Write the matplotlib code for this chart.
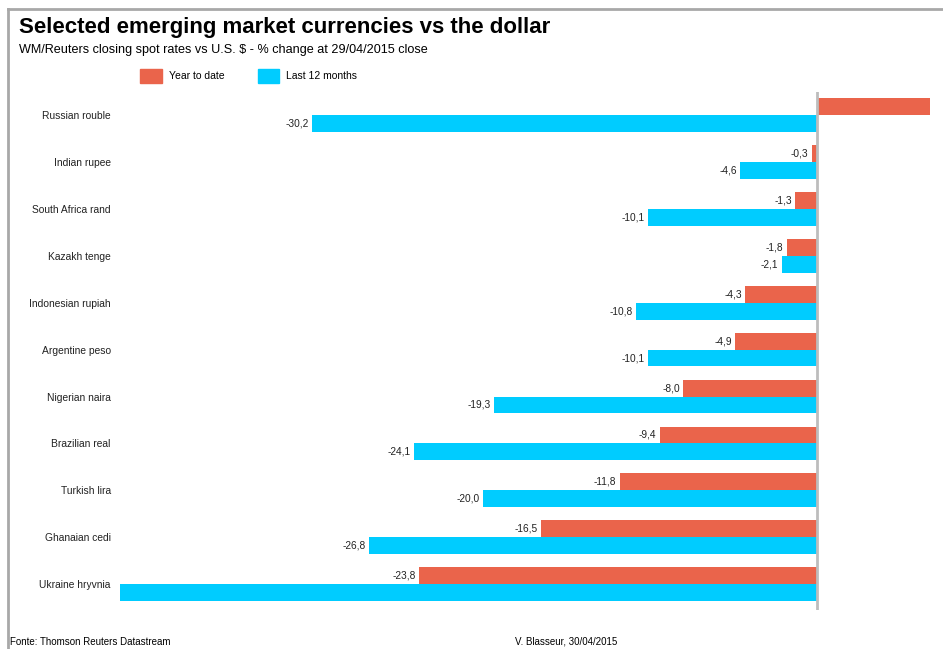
import matplotlib.pyplot as plt
from matplotlib.lines import Line2D
from matplotlib.patches import Patch

plt.rcParams['font.family'] = ['Liberation Sans', 'DejaVu Sans']

# % change vs the US dollar
currencies = ['Russian rouble', 'Indian rupee', 'South Africa rand', 'Kazakh tenge',
              'Indonesian rupiah', 'Argentine peso', 'Nigerian naira', 'Brazilian real',
              'Turkish lira', 'Ghanaian cedi', 'Ukraine hryvnia']
year_to_date = [6.8, -0.3, -1.3, -1.8, -4.3, -4.9, -8.0, -9.4, -11.8, -16.5, -23.8]
last_12_months = [-30.2, -4.6, -10.1, -2.1, -10.8, -10.1, -19.3, -24.1, -20.0, -26.8, -41.7]
# bars running off the chart edge carry no number
ytd_labelled = [False] + [True] * 10
ltm_labelled = [True] * 10 + [False]

ytd_color = '#EA644B'
ltm_color = '#00CCFF'

fig = plt.figure(figsize=(9.43, 6.49), dpi=100)
ax = fig.add_axes([119 / 943, 1 - 610 / 649, (930 - 119) / 943, (610 - 92) / 649])

pos = list(range(len(currencies)))
off = 0.18
h = 0.36
ax.barh([p - off for p in pos], year_to_date, height=h, color=ytd_color)
ax.barh([p + off for p in pos], last_12_months, height=h, color=ltm_color)
ax.axvline(0, color='#BDBDBD', lw=2)

ax.set_xlim(-41.75, 6.76)
ax.set_ylim(10.55, -0.49)


def fmt(v):
    return f"{v:.1f}".replace('.', ',')


gap = 0.2
for p, v, show in zip(pos, year_to_date, ytd_labelled):
    if show:
        ax.text(v - gap, p - off, fmt(v), ha='right', va='center', fontsize=7.3, color='#222222')
for p, v, show in zip(pos, last_12_months, ltm_labelled):
    if show:
        ax.text(v - gap, p + off, fmt(v), ha='right', va='center', fontsize=7.3, color='#222222')

ax.set_yticks(pos)
ax.set_yticklabels(currencies, fontsize=7.4, color='#222222')
ax.tick_params(axis='y', length=0, pad=6)
ax.set_xticks([])
for s in ax.spines.values():
    s.set_visible(False)

fig.text(19 / 943, 1 - 27 / 649, 'Selected emerging market currencies vs the dollar',
         fontsize=16, fontweight='bold', va='center', ha='left')
fig.text(19 / 943, 1 - 50 / 649,
         'WM/Reuters closing spot rates vs U.S. $ - % change at 29/04/2015 close',
         fontsize=9.1, va='center', ha='left')

handles = [Patch(color=ytd_color, label='Year to date'),
           Patch(color=ltm_color, label='Last 12 months')]
fig.legend(handles=handles, loc='upper left', bbox_to_anchor=(140 / 943, 1 - 69 / 649),
           ncol=2, frameon=False, fontsize=7.5, handlelength=2.1, handleheight=1.7,
           handletextpad=0.65, columnspacing=3.2, borderpad=0, borderaxespad=0)

fig.text(10 / 943, 1 - 645 / 649, 'Fonte: Thomson Reuters Datastream', fontsize=7,
         va='baseline', ha='left')
fig.text(515 / 943, 1 - 645 / 649, 'V. Blasseur, 30/04/2015', fontsize=7,
         va='baseline', ha='left')

# frame lines along the top and left edge
fig.add_artist(Line2D([8 / 943, 1], [1 - 9 / 649] * 2, color='#A8A8A8', lw=2))
fig.add_artist(Line2D([8 / 943] * 2, [0, 1 - 9 / 649], color='#A8A8A8', lw=2))

fig.savefig('out.png', dpi=100)
